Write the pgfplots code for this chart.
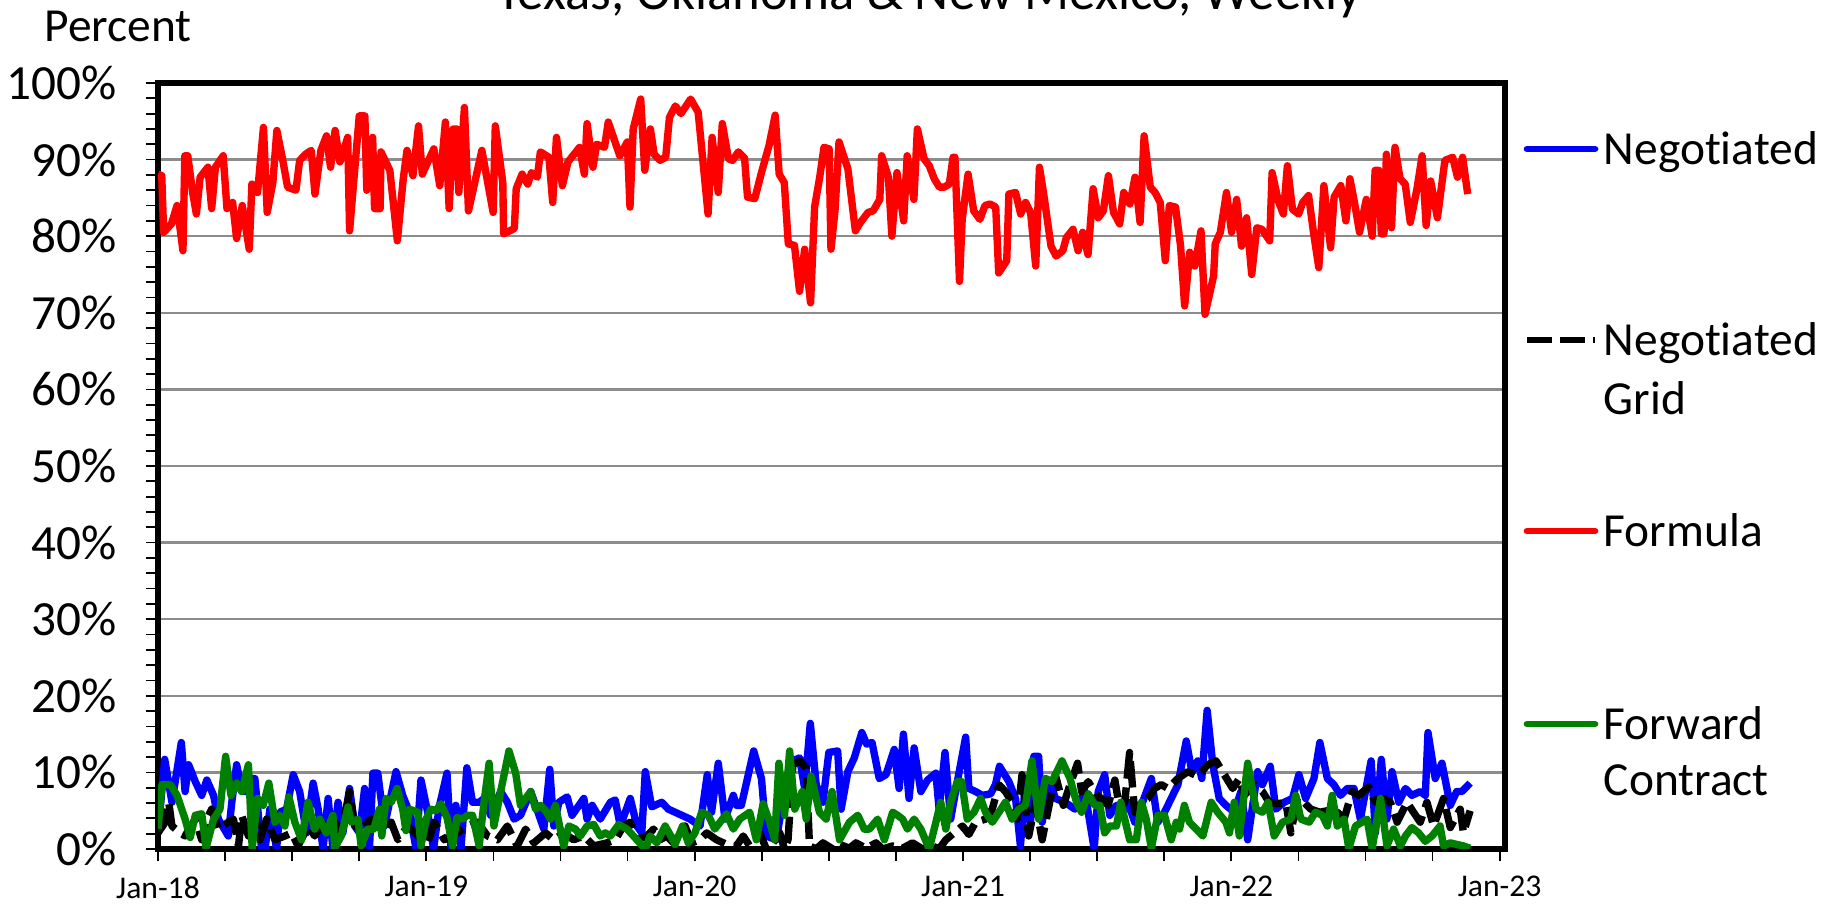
\documentclass[border=0pt]{standalone}
\usepackage{pgfplots}
\pgfplotsset{compat=1.18}
\usepackage{fontspec}
\setmainfont{Carlito}[Ligatures=NoCommon]
\definecolor{gridgray}{RGB}{140,140,140}
\definecolor{fwdgreen}{RGB}{0,128,0}
\begin{document}
\begin{tikzpicture}
\path[use as bounding box] (0,0) rectangle (18.39,9.07);
\begin{axis}[
  at={(1.58cm,0.58cm)}, anchor=south west,
  scale only axis, width=13.47cm, height=7.66cm,
  xmin=2018, xmax=2023.02, ymin=0, ymax=100,
  axis line style={line width=1.5pt, black},
  xtick={2018,2019,2020,2021,2022,2023},
  xticklabels={Jan-18,Jan-19,Jan-20,Jan-21,Jan-22,Jan-23},
  minor xtick={2018.25,2018.5,2018.75,2019.25,2019.5,2019.75,2020.25,2020.5,2020.75,2021.25,2021.5,2021.75,2022.25,2022.5,2022.75},
  ytick={0,10,20,30,40,50,60,70,80,90,100},
  yticklabels={0\%,10\%,20\%,30\%,40\%,50\%,60\%,70\%,80\%,90\%,100\%},
  minor y tick num=4,
  tick align=outside, tick pos=left,
  major tick length=0.12cm, minor tick length=0.12cm,
  tick style={black, line width=0.5pt},
  ymajorgrids, major grid style={gridgray, line width=0.7pt},
  yticklabel style={font=\fontsize{14pt}{16pt}\selectfont, xshift=-0.17cm},
  xticklabel style={font=\fontsize{9pt}{11pt}\selectfont, yshift=-0.03cm},
  every axis plot/.append style={line join=round, no markers},
]
% Negotiated
\addplot[blue, line width=2.1pt] coordinates {
(2018.000,2.1)(2018.025,11.7)(2018.052,6.1)(2018.087,13.9)(2018.101,7.5)(2018.114,11.0)(2018.139,8.8)(2018.163,7.0)(2018.182,9.0)(2018.207,7.0)(2018.225,3.9)(2018.262,1.7)(2018.275,6.1)(2018.293,11.0)(2018.306,8.8)(2018.324,7.5)(2018.343,9.2)(2018.361,9.2)(2018.386,0)(2018.399,0)(2018.417,5.2)(2018.442,0)(2018.454,4.8)(2018.479,5.2)(2018.504,9.7)(2018.528,7.5)(2018.553,2.1)(2018.578,8.6)(2018.597,5.2)(2018.615,0)(2018.634,6.6)(2018.652,0)(2018.671,6.1)(2018.689,2.1)(2018.714,7.9)(2018.733,3.0)(2018.751,2.1)(2018.770,7.9)(2018.788,0)(2018.801,9.9)(2018.819,9.9)(2018.844,3.0)(2018.863,6.1)(2018.887,10.1)(2018.912,7.0)(2018.937,4.8)(2018.962,0)(2018.980,9.0)(2019.005,4.8)(2019.027,0)(2019.048,5.5)(2019.077,9.9)(2019.092,0)(2019.110,5.7)(2019.129,0)(2019.151,10.6)(2019.172,6.1)(2019.197,6.1)(2019.215,6.6)(2019.240,4.4)(2019.277,7.5)(2019.302,6.1)(2019.327,3.9)(2019.351,4.4)(2019.389,7.5)(2019.438,2.6)(2019.460,10.4)(2019.475,3.0)(2019.494,6.1)(2019.525,6.8)(2019.543,4.4)(2019.587,6.6)(2019.599,3.9)(2019.618,5.7)(2019.648,3.9)(2019.686,6.1)(2019.704,6.4)(2019.723,3.0)(2019.760,6.6)(2019.785,3.0)(2019.803,2.1)(2019.816,10.1)(2019.840,5.5)(2019.877,6.1)(2019.902,5.2)(2019.927,4.8)(2019.952,4.4)(2019.983,3.9)(2020.020,3.0)(2020.047,9.7)(2020.063,4.8)(2020.088,11.2)(2020.113,3.9)(2020.144,7.0)(2020.156,5.7)(2020.174,5.7)(2020.220,12.8)(2020.249,9.2)(2020.267,1.7)(2020.304,1.2)(2020.335,7.5)(2020.366,11.5)(2020.391,11.9)(2020.410,7.9)(2020.431,16.4)(2020.453,8.4)(2020.478,6.1)(2020.500,12.6)(2020.533,12.8)(2020.546,5.2)(2020.571,10.1)(2020.595,11.9)(2020.623,15.2)(2020.641,13.7)(2020.661,13.9)(2020.688,9.2)(2020.713,9.7)(2020.744,13.0)(2020.762,7.9)(2020.778,15.0)(2020.799,6.6)(2020.818,13.2)(2020.843,7.5)(2020.868,9.0)(2020.899,9.9)(2020.911,5.2)(2020.933,12.6)(2020.954,3.9)(2020.979,8.8)(2021.010,14.6)(2021.022,7.9)(2021.047,7.5)(2021.072,7.0)(2021.103,7.2)(2021.121,8.4)(2021.136,10.8)(2021.171,8.8)(2021.196,6.6)(2021.214,0.4)(2021.233,8.8)(2021.251,3.0)(2021.264,12.1)(2021.282,12.1)(2021.295,3.5)(2021.325,8.8)(2021.344,6.6)(2021.380,6.1)(2021.417,5.2)(2021.454,7.5)(2021.489,0)(2021.504,7.5)(2021.528,9.7)(2021.547,4.4)(2021.572,5.7)(2021.597,4.8)(2021.615,6.1)(2021.640,3.5)(2021.665,5.7)(2021.702,9.2)(2021.726,3.5)(2021.751,4.8)(2021.776,6.6)(2021.801,8.4)(2021.832,14.1)(2021.853,10.1)(2021.875,11.5)(2021.890,9.2)(2021.910,18.1)(2021.931,11.0)(2021.955,6.6)(2021.980,5.7)(2022.011,4.8)(2022.036,7.5)(2022.061,1.2)(2022.098,10.1)(2022.116,8.4)(2022.145,10.8)(2022.166,5.2)(2022.197,6.1)(2022.228,6.6)(2022.252,9.7)(2022.277,6.6)(2022.308,9.2)(2022.330,13.9)(2022.358,9.2)(2022.382,8.4)(2022.407,7.0)(2022.432,7.9)(2022.457,7.9)(2022.481,3.9)(2022.521,11.5)(2022.537,2.1)(2022.559,11.7)(2022.580,3.9)(2022.599,10.1)(2022.624,6.1)(2022.649,7.9)(2022.673,7.0)(2022.704,7.5)(2022.723,7.0)(2022.733,15.2)(2022.760,9.2)(2022.785,11.2)(2022.816,5.7)(2022.840,7.5)(2022.859,7.5)(2022.890,8.6)
};
% Negotiated Grid
\addplot[black, line width=2.1pt, dash pattern=on 7.5pt off 2.5pt] coordinates {
(2018.000,2.1)(2018.027,3.5)(2018.040,6.1)(2018.052,3.0)(2018.083,2.1)(2018.101,1.7)(2018.139,3.9)(2018.163,1.2)(2018.182,3.9)(2018.200,5.2)(2018.225,2.6)(2018.262,3.5)(2018.281,3.9)(2018.300,0.4)(2018.312,4.4)(2018.337,1.7)(2018.361,4.8)(2018.380,1.2)(2018.405,3.9)(2018.436,1.2)(2018.473,1.7)(2018.498,2.1)(2018.522,0.4)(2018.559,3.0)(2018.584,1.7)(2018.621,3.9)(2018.652,3.9)(2018.683,2.1)(2018.714,7.5)(2018.733,3.0)(2018.757,2.6)(2018.795,3.9)(2018.844,2.1)(2018.869,3.5)(2018.894,1.2)(2018.931,3.0)(2018.968,1.7)(2019.005,0.8)(2019.030,3.5)(2019.067,1.2)(2019.116,2.1)(2019.153,3.0)(2019.191,3.5)(2019.228,1.7)(2019.265,1.2)(2019.302,3.0)(2019.339,0.4)(2019.370,2.6)(2019.401,0.8)(2019.444,2.1)(2019.475,1.2)(2019.512,2.1)(2019.549,1.2)(2019.587,1.7)(2019.624,0.4)(2019.673,0.8)(2019.704,1.2)(2019.735,3.0)(2019.760,3.5)(2019.785,1.2)(2019.822,1.7)(2019.847,2.6)(2019.871,1.2)(2019.896,1.7)(2019.921,0.8)(2019.964,3.0)(2019.989,0.8)(2020.020,1.2)(2020.045,2.1)(2020.082,1.2)(2020.119,0.6)(2020.156,0.4)(2020.181,1.7)(2020.205,0.4)(2020.243,2.1)(2020.267,0)(2020.292,0.8)(2020.317,2.1)(2020.335,0)(2020.348,1.2)(2020.366,11.0)(2020.391,11.5)(2020.416,10.6)(2020.428,0.4)(2020.453,0)(2020.478,0.8)(2020.515,0)(2020.540,0.6)(2020.577,0.1)(2020.601,0.8)(2020.639,0.1)(2020.676,0.8)(2020.700,0)(2020.738,0.4)(2020.775,0.1)(2020.812,0.8)(2020.849,0)(2020.886,0.4)(2020.911,0)(2020.936,1.2)(2020.967,2.1)(2020.998,3.0)(2021.022,1.9)(2021.047,3.5)(2021.084,3.9)(2021.109,5.2)(2021.134,8.4)(2021.158,7.5)(2021.183,6.1)(2021.202,3.9)(2021.220,9.7)(2021.245,1.7)(2021.270,6.1)(2021.295,1.2)(2021.344,9.7)(2021.374,5.7)(2021.399,8.4)(2021.427,11.2)(2021.442,7.5)(2021.467,8.8)(2021.498,7.0)(2021.516,6.6)(2021.541,5.7)(2021.566,9.0)(2021.584,5.2)(2021.603,6.1)(2021.621,12.6)(2021.640,4.8)(2021.665,6.1)(2021.689,6.6)(2021.714,7.9)(2021.739,8.4)(2021.764,7.9)(2021.801,9.2)(2021.838,10.1)(2021.875,9.5)(2021.912,11.0)(2021.943,11.5)(2021.974,9.7)(2022.005,7.9)(2022.030,9.2)(2022.048,7.0)(2022.085,8.4)(2022.116,7.5)(2022.141,6.1)(2022.172,5.9)(2022.203,6.1)(2022.222,2.1)(2022.246,6.6)(2022.271,6.1)(2022.296,5.2)(2022.330,4.8)(2022.358,5.0)(2022.395,4.8)(2022.420,3.9)(2022.450,7.5)(2022.475,7.0)(2022.512,8.1)(2022.537,6.1)(2022.568,6.6)(2022.593,6.1)(2022.618,3.5)(2022.655,6.1)(2022.679,4.8)(2022.704,3.5)(2022.729,6.1)(2022.754,3.0)(2022.791,6.6)(2022.816,2.8)(2022.853,5.2)(2022.865,2.1)(2022.890,5.0)
};
% Formula
\addplot[red, line width=2.1pt] coordinates {
(2018.000,88.1)(2018.014,87.9)(2018.021,80.5)(2018.050,81.6)(2018.071,84.0)(2018.093,78.1)(2018.100,90.5)(2018.111,90.5)(2018.129,85.7)(2018.143,82.9)(2018.157,87.7)(2018.186,89.0)(2018.200,83.6)(2018.214,89.0)(2018.243,90.5)(2018.257,83.6)(2018.278,84.4)(2018.293,79.7)(2018.314,84.0)(2018.340,78.3)(2018.350,86.8)(2018.371,85.7)(2018.393,94.2)(2018.407,83.1)(2018.428,87.0)(2018.443,93.8)(2018.464,90.1)(2018.483,86.4)(2018.514,86.0)(2018.528,89.9)(2018.550,90.7)(2018.571,91.2)(2018.585,85.5)(2018.607,91.2)(2018.628,93.1)(2018.643,89.0)(2018.660,93.8)(2018.678,89.7)(2018.707,92.9)(2018.714,80.7)(2018.750,95.7)(2018.771,95.7)(2018.778,86.0)(2018.800,92.9)(2018.807,83.6)(2018.828,83.6)(2018.831,91.0)(2018.864,88.6)(2018.892,79.4)(2018.914,87.5)(2018.928,91.2)(2018.950,87.9)(2018.971,94.4)(2018.985,88.1)(2019.028,91.4)(2019.050,86.6)(2019.071,94.9)(2019.085,83.6)(2019.100,94.0)(2019.114,94.0)(2019.121,85.7)(2019.142,96.8)(2019.157,83.3)(2019.207,91.2)(2019.249,83.1)(2019.257,94.4)(2019.285,87.0)(2019.288,80.3)(2019.328,81.0)(2019.335,86.2)(2019.357,88.1)(2019.378,86.8)(2019.392,88.3)(2019.414,87.7)(2019.425,91.0)(2019.457,90.3)(2019.471,84.4)(2019.485,92.9)(2019.507,86.6)(2019.528,89.7)(2019.571,91.6)(2019.589,88.1)(2019.599,94.7)(2019.621,89.0)(2019.635,92.0)(2019.664,91.6)(2019.678,94.9)(2019.721,90.5)(2019.749,92.3)(2019.759,83.8)(2019.771,94.0)(2019.799,97.9)(2019.814,88.6)(2019.835,94.0)(2019.849,90.7)(2019.871,89.9)(2019.892,90.3)(2019.906,95.5)(2019.928,97.0)(2019.949,96.0)(2019.985,97.9)(2020.013,96.2)(2020.050,82.9)(2020.065,92.9)(2020.088,85.7)(2020.103,94.7)(2020.126,90.1)(2020.141,89.9)(2020.163,91.0)(2020.186,90.2)(2020.197,85.1)(2020.224,84.9)(2020.249,88.3)(2020.268,90.7)(2020.277,91.8)(2020.300,95.8)(2020.315,88.1)(2020.334,87.0)(2020.349,79.0)(2020.372,78.8)(2020.391,72.8)(2020.410,78.3)(2020.432,71.3)(2020.447,83.8)(2020.466,87.7)(2020.482,91.6)(2020.501,91.4)(2020.508,78.3)(2020.523,83.3)(2020.538,92.3)(2020.571,88.8)(2020.599,80.7)(2020.618,81.8)(2020.646,83.1)(2020.665,83.3)(2020.690,84.8)(2020.697,90.5)(2020.722,87.7)(2020.735,80.0)(2020.754,88.3)(2020.779,82.0)(2020.792,90.5)(2020.817,84.8)(2020.830,94.0)(2020.855,90.1)(2020.874,89.2)(2020.893,87.5)(2020.912,86.4)(2020.930,86.4)(2020.949,86.8)(2020.963,90.3)(2020.970,90.3)(2020.987,74.1)(2020.997,82.2)(2021.019,88.1)(2021.040,83.3)(2021.063,82.2)(2021.082,84.0)(2021.101,84.2)(2021.122,83.8)(2021.133,75.2)(2021.163,76.8)(2021.171,85.5)(2021.196,85.7)(2021.215,82.9)(2021.233,84.4)(2021.252,83.1)(2021.271,76.1)(2021.285,89.0)(2021.300,85.7)(2021.328,78.7)(2021.347,77.4)(2021.372,78.1)(2021.385,79.8)(2021.410,80.9)(2021.429,78.1)(2021.446,80.5)(2021.466,77.6)(2021.485,86.2)(2021.504,82.4)(2021.523,83.3)(2021.542,87.9)(2021.561,83.1)(2021.584,81.6)(2021.599,85.7)(2021.622,84.2)(2021.641,87.7)(2021.660,81.8)(2021.675,93.1)(2021.698,86.4)(2021.716,85.7)(2021.735,84.4)(2021.754,76.8)(2021.769,84.0)(2021.792,83.8)(2021.811,78.7)(2021.826,70.9)(2021.845,77.9)(2021.864,76.1)(2021.887,80.7)(2021.902,69.8)(2021.934,74.8)(2021.940,79.0)(2021.959,80.5)(2021.982,85.7)(2022.001,80.5)(2022.020,84.8)(2022.038,78.7)(2022.057,82.4)(2022.076,75.0)(2022.095,81.1)(2022.114,80.9)(2022.143,79.4)(2022.152,88.3)(2022.175,84.6)(2022.194,82.9)(2022.209,89.2)(2022.228,83.5)(2022.251,82.9)(2022.266,84.4)(2022.288,85.3)(2022.307,80.3)(2022.326,75.9)(2022.345,86.6)(2022.370,78.5)(2022.383,85.1)(2022.408,86.6)(2022.427,82.0)(2022.442,87.5)(2022.459,84.4)(2022.478,80.5)(2022.503,84.8)(2022.525,80.0)(2022.536,88.6)(2022.550,88.6)(2022.559,80.3)(2022.569,80.3)(2022.578,90.7)(2022.597,81.1)(2022.610,91.6)(2022.629,87.5)(2022.648,86.8)(2022.667,81.8)(2022.692,86.2)(2022.711,90.5)(2022.726,81.4)(2022.743,87.2)(2022.768,82.4)(2022.796,89.9)(2022.825,90.3)(2022.843,87.7)(2022.862,90.3)(2022.881,85.5)
};
% Forward Contract
\addplot[fwdgreen, line width=2.1pt] coordinates {
(2018.000,2.6)(2018.015,8.4)(2018.046,8.4)(2018.071,7.0)(2018.101,3.9)(2018.120,1.5)(2018.139,4.4)(2018.163,4.6)(2018.179,0.1)(2018.207,3.9)(2018.231,5.2)(2018.252,12.1)(2018.272,7.0)(2018.293,8.6)(2018.312,7.5)(2018.337,11.0)(2018.351,0.1)(2018.371,6.6)(2018.392,5.7)(2018.413,8.6)(2018.436,3.5)(2018.454,4.4)(2018.473,3.0)(2018.488,6.8)(2018.510,3.5)(2018.535,1.2)(2018.559,6.1)(2018.584,2.6)(2018.603,3.9)(2018.627,2.1)(2018.652,4.4)(2018.658,0.1)(2018.683,1.7)(2018.708,5.5)(2018.720,3.5)(2018.745,3.9)(2018.757,0.4)(2018.782,2.6)(2018.804,2.6)(2018.825,5.2)(2018.834,1.7)(2018.850,6.6)(2018.869,6.1)(2018.891,7.9)(2018.912,5.2)(2018.924,2.4)(2018.937,5.2)(2018.968,4.8)(2018.980,0.4)(2018.999,3.9)(2019.017,5.2)(2019.036,5.0)(2019.054,5.9)(2019.077,4.1)(2019.098,0.4)(2019.114,4.1)(2019.135,3.9)(2019.153,4.4)(2019.172,4.4)(2019.197,0.4)(2019.215,6.1)(2019.234,11.2)(2019.252,3.0)(2019.277,7.5)(2019.308,12.8)(2019.333,9.9)(2019.351,5.7)(2019.389,7.5)(2019.407,5.2)(2019.426,5.7)(2019.444,5.0)(2019.463,3.9)(2019.481,5.7)(2019.512,0.4)(2019.531,3.0)(2019.556,2.6)(2019.574,1.7)(2019.599,3.0)(2019.624,3.2)(2019.648,1.7)(2019.667,2.1)(2019.686,1.7)(2019.717,3.2)(2019.748,2.6)(2019.785,1.2)(2019.816,0)(2019.834,1.7)(2019.859,0.8)(2019.890,3.0)(2019.908,1.9)(2019.927,0.6)(2019.955,3.0)(2019.976,0.8)(2020.001,2.1)(2020.026,4.8)(2020.051,4.4)(2020.075,2.6)(2020.119,4.6)(2020.144,2.6)(2020.168,3.9)(2020.205,4.8)(2020.230,1.2)(2020.255,5.9)(2020.280,3.5)(2020.298,1.2)(2020.314,11.2)(2020.335,4.4)(2020.354,12.8)(2020.373,5.2)(2020.401,7.5)(2020.416,3.9)(2020.434,9.5)(2020.465,4.8)(2020.490,3.9)(2020.512,7.5)(2020.540,1.2)(2020.577,3.5)(2020.608,4.4)(2020.632,2.6)(2020.651,2.6)(2020.682,3.9)(2020.707,1.2)(2020.738,4.8)(2020.756,4.4)(2020.775,3.9)(2020.793,2.6)(2020.818,3.9)(2020.843,2.6)(2020.874,0)(2020.899,3.5)(2020.917,6.1)(2020.936,2.6)(2020.954,6.1)(2020.979,8.8)(2020.995,8.8)(2021.016,3.9)(2021.041,4.8)(2021.066,6.6)(2021.084,4.8)(2021.109,3.5)(2021.134,4.8)(2021.158,6.1)(2021.183,3.9)(2021.208,5.2)(2021.233,5.7)(2021.257,11.5)(2021.282,3.9)(2021.307,9.2)(2021.332,8.8)(2021.369,11.5)(2021.399,9.2)(2021.423,6.1)(2021.442,4.8)(2021.467,7.2)(2021.491,5.7)(2021.510,5.7)(2021.528,2.1)(2021.547,3.0)(2021.572,3.0)(2021.588,6.1)(2021.621,1.2)(2021.646,1.2)(2021.665,6.1)(2021.683,3.9)(2021.702,0.1)(2021.726,4.4)(2021.751,4.4)(2021.776,1.2)(2021.795,3.5)(2021.807,2.6)(2021.825,5.7)(2021.844,3.5)(2021.869,2.6)(2021.894,1.7)(2021.925,6.1)(2021.949,4.8)(2021.980,3.5)(2021.993,2.1)(2022.011,6.1)(2022.030,1.7)(2022.061,11.2)(2022.092,5.2)(2022.116,4.8)(2022.137,6.1)(2022.160,1.7)(2022.191,3.5)(2022.222,3.9)(2022.240,7.0)(2022.259,3.9)(2022.290,3.5)(2022.314,4.8)(2022.339,4.4)(2022.358,3.0)(2022.376,7.0)(2022.395,3.0)(2022.420,3.9)(2022.438,0.1)(2022.463,3.0)(2022.506,3.9)(2022.525,0.1)(2022.556,6.6)(2022.580,0.4)(2022.605,2.6)(2022.630,0.4)(2022.649,1.7)(2022.673,2.8)(2022.698,2.1)(2022.723,1.0)(2022.748,1.7)(2022.778,3.0)(2022.791,0.4)(2022.816,0.8)(2022.840,0.6)(2022.865,0.4)(2022.890,0.1)
};
\end{axis}
% titles
\node[anchor=base, font=\fontsize{15pt}{18pt}\selectfont] at (9.29,8.975) {Texas, Oklahoma \& New Mexico, Weekly};
\node[anchor=base, font=\fontsize{13.5pt}{16pt}\selectfont] at (1.18,8.65) {Percent};
% legend
\begin{scope}[every node/.style={anchor=base west, inner sep=0pt, font=\fontsize{13.5pt}{16pt}\selectfont}]
\draw[blue, line width=1.9pt, line cap=round] (15.27,7.58) -- (15.95,7.58);
\node at (16.03,7.42) {Negotiated};
\draw[black, line width=1.9pt, dash pattern=on 0.25cm off 0.08cm] (15.27,5.67) -- (15.95,5.67);
\node at (16.03,5.51) {Negotiated};
\node at (16.03,4.92) {Grid};
\draw[red, line width=1.9pt, line cap=round] (15.27,3.76) -- (15.95,3.76);
\node at (16.03,3.60) {Formula};
\draw[fwdgreen, line width=1.9pt, line cap=round] (15.27,1.83) -- (15.95,1.83);
\node at (16.03,1.67) {Forward};
\node at (16.03,1.11) {Contract};
\end{scope}
\end{tikzpicture}
\end{document}
